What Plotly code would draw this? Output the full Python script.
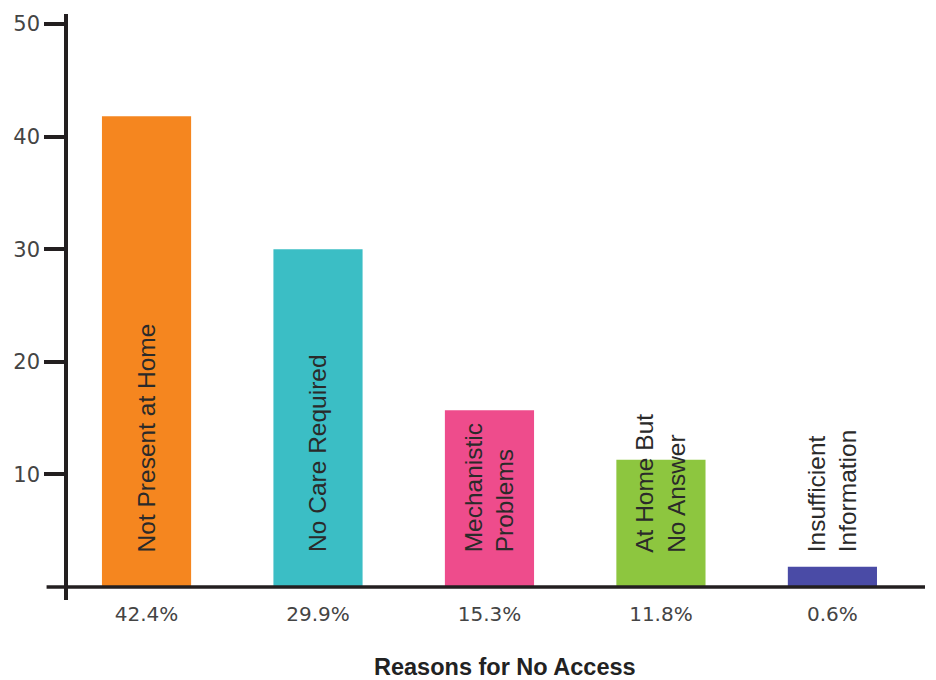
import plotly.graph_objects as go

categories = ["Not Present at Home", "No Care Required", "Mechanistic<br>Problems",
              "At Home But<br>No Answer", "Insufficient<br>Information"]
bar_values = [41.8, 30.0, 15.7, 11.3, 1.8]
pct_labels = ["42.4%", "29.9%", "15.3%", "11.8%", "0.6%"]
colors = ["#F5861F", "#3BBEC5", "#EE4C8C", "#8DC63F", "#4A4BA6"]
y_ticks = [10, 20, 30, 40, 50]

x_idx = list(range(len(categories)))
axis_color = "#231F20"

fig = go.Figure(go.Bar(
    x=x_idx, y=bar_values, marker=dict(color=colors, line=dict(width=0)),
    width=0.52, hoverinfo="skip",
))

for i, lab in zip(x_idx, categories):
    fig.add_annotation(
        x=i, y=2.9, xref="x", yref="y", text=lab, showarrow=False,
        textangle=-90, xanchor="center", yanchor="bottom", align="left",
        font=dict(family="Liberation Sans, Arial, sans-serif", size=24.5, color="#2a2a2a"),
    )

fig.add_shape(type="line", xref="paper", yref="y", x0=-0.025, x1=1, y0=0, y1=0,
              line=dict(color=axis_color, width=3.5), layer="above")

fig.add_annotation(
    x=0.51, y=-0.114, xref="paper", yref="paper", text="<b>Reasons for No Access</b>",
    showarrow=False, xanchor="center", yanchor="middle",
    font=dict(family="Liberation Sans, Arial, sans-serif", size=23.5, color="#222"),
)

fig.update_layout(
    width=928, height=672,
    margin=dict(l=60, r=11, t=4, b=80),
    plot_bgcolor="white", paper_bgcolor="white",
    showlegend=False,
    xaxis=dict(range=[-0.458, 4.54], tickvals=x_idx, ticktext=pct_labels,
               showline=False, showgrid=False, zeroline=False, ticks="",
               tickfont=dict(family="DejaVu Sans, sans-serif", size=20, color="#444"),
               fixedrange=True),
    yaxis=dict(range=[-1.15, 50.88], tickvals=y_ticks, showgrid=False, zeroline=False,
               showline=True, linecolor=axis_color, linewidth=3.5,
               ticks="outside", ticklen=20, tickwidth=3.5, tickcolor=axis_color,
               tickfont=dict(family="DejaVu Sans, sans-serif", size=21, color="#444"),
               fixedrange=True),
)

fig.write_html("out.html")
